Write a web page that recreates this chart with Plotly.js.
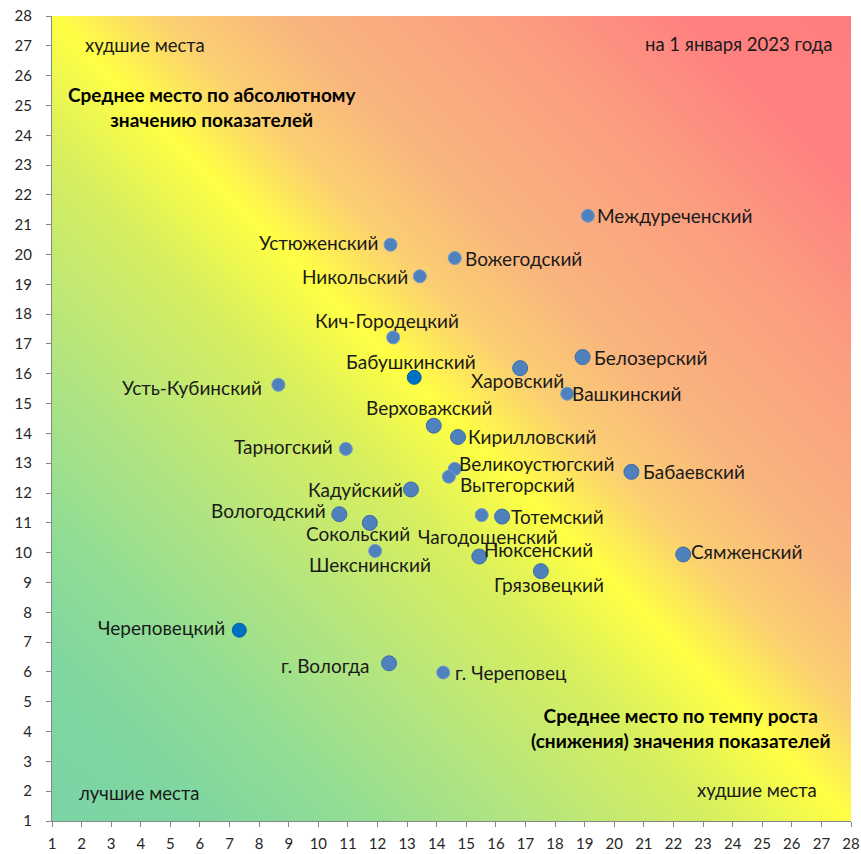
<!DOCTYPE html>
<html>
<head>
<meta charset="utf-8">
<script src="https://cdn.plot.ly/plotly-3.0.1.min.js"></script>
<style>html,body{margin:0;padding:0;background:#fff;}#chart{width:861px;height:854px;}</style>
</head>
<body>
<div id="chart"></div>
<script>
// ---- data ----
const districts = ["Междуреченский","Устюженский","Вожегодский","Никольский","Кич-Городецкий","Бабушкинский","Усть-Кубинский","Харовский","Белозерский","Вашкинский","Верховажский","Кирилловский","Тарногский","Великоустюгский","Вытегорский","Бабаевский","Кадуйский","Вологодский","Сокольский","Чагодощенский","Тотемский","Шекснинский","Нюксенский","Грязовецкий","Сямженский","Череповецкий","г. Вологда","г. Череповец"];
const growthPlace = [19.11,12.44,14.61,13.43,12.53,13.24,8.65,16.82,18.93,18.41,13.90,14.72,10.93,14.61,14.41,20.58,13.13,10.71,11.74,15.52,16.21,11.92,15.44,17.52,22.33,7.33,12.39,14.22];
const absPlace    = [21.30,20.33,19.88,19.27,17.22,15.88,15.63,16.19,16.56,15.33,14.26,13.88,13.48,12.81,12.55,12.71,12.12,11.29,11.00,11.26,11.21,10.06,9.87,9.38,9.94,7.40,6.29,5.98];
const tickVals = [1,2,3,4,5,6,7,8,9,10,11,12,13,14,15,16,17,18,19,20,21,22,23,24,25,26,27,28];

// ---- styles (marker kind and label placement) ----
// kind: s = small, b = big, d = dark blue
const kind = ["s","s","s","s","s","d","s","b","b","s","b","b","s","s","s","b","b","b","b","s","b","s","b","b","b","d","b","s"];
const lblAnchor = ["l","r","l","r","c","c","r","c","l","l","c","l","r","l","l","l","r","r","c","c","l","c","l","c","l","r","r","l"];
const lblDx = [8,-12,9,-11,-6,-3,-15,-3,10,4,-5,9,-12,3,10,11,-7,-12,-12,6,8,-5,4,8,7,-13,-18,11];
const lblDy = [0,2,0,0,17,16,-3,-12,0,0,18,0,2,5,-8,0,0,4,-11,-21,0,-14,7,-13,3,3,-2,0];

const FONT = 'Lato, "Liberation Sans", sans-serif';
const sizeOf = {s:13, b:15, d:14};
const colorOf = {s:'#4f81bd', b:'#4f81bd', d:'#0070c0'};
const lineOf = {s:'#7199cf', b:'#3e6da6', d:'#0063ab'};

const trace = {
  type:'scatter', mode:'markers',
  x: growthPlace, y: absPlace, text: districts,
  hoverinfo:'text',
  marker:{
    size: kind.map(k=>sizeOf[k]),
    color: kind.map(k=>colorOf[k]),
    opacity: 1,
    line:{width:1, color: kind.map(k=>lineOf[k])}
  }
};

const anchorMap = {l:'left', r:'right', c:'center'};
const labelAnn = districts.map((name,i)=>({
  x: growthPlace[i], y: absPlace[i], xref:'x', yref:'y',
  text: name, showarrow:false,
  xanchor: anchorMap[lblAnchor[i]], yanchor:'middle',
  xshift: lblDx[i], yshift: lblDy[i], borderpad:0,
  font:{family:FONT, size:19, color:'#1a1a1a'}
}));

const noteFont = {family:FONT, size:18.5, color:'#1a1a1a'};
const boldFont = {family:FONT, size:19, color:'#000000'};
const notes = [
  {x:4.14, y:27.04, text:'худшие места', font:noteFont, xanchor:'center'},
  {x:27.45, y:27.07, text:'на 1 января 2023 года', font:noteFont, xanchor:'right'},
  {x:6.4, y:24.94, text:'<b>Среднее место по абсолютному</b><br><b>значению показателей</b>', font:boldFont, xanchor:'center'},
  {x:22.27, y:4.12, text:'<b>Среднее место по темпу роста</b><br><b>(снижения) значения показателей</b>', font:boldFont, xanchor:'center'},
  {x:24.82, y:2.04, text:'худшие места', font:noteFont, xanchor:'center'},
  {x:3.94, y:1.94, text:'лучшие места', font:noteFont, xanchor:'center'}
].map(a=>Object.assign({xref:'x', yref:'y', showarrow:false, yanchor:'middle', align:'center'}, a));

const stops = [
  [0,'#7ad4a5'],[0.1,'#7fd6a0'],[0.2,'#95de92'],[0.3,'#b5e57e'],[0.42,'#d8ef5e'],
  [0.5,'#ffff44'],[0.57,'#fbcf72'],[0.65,'#f9b47e'],[0.78,'#fb9e80'],[0.9,'#ff8080'],[1,'#ff7d7d']
];
const svg = "<svg xmlns='http://www.w3.org/2000/svg' width='200' height='200' viewBox='0 0 200 200' preserveAspectRatio='none'>" +
  "<defs><linearGradient id='g' x1='0' y1='1' x2='1' y2='0'>" +
  stops.map(s=>"<stop offset='"+s[0]+"' stop-color='"+s[1]+"'/>").join('') +
  "</linearGradient></defs><rect width='200' height='200' fill='url(#g)'/></svg>";
const bgSrc = 'data:image/svg+xml;charset=utf-8,' + encodeURIComponent(svg);

const axisCommon = {
  range:[1,28], tickvals: tickVals, ticktext: tickVals.map(String),
  showgrid:false, zeroline:false, showline:true, linecolor:'#868686', linewidth:1,
  ticks:'outside', ticklen:5, tickcolor:'#868686', tickwidth:1,
  tickfont:{family:FONT, size:15, color:'#262626'}, fixedrange:true
};

const layout = {
  width:861, height:854,
  margin:{l:52, r:10, t:16, b:33},
  paper_bgcolor:'#ffffff', plot_bgcolor:'#ffffff',
  showlegend:false,
  xaxis: Object.assign({}, axisCommon, {ticklabelstandoff:4}),
  yaxis: Object.assign({}, axisCommon, {ticklabelstandoff:11}),
  images:[{source:bgSrc, xref:'x', yref:'y', x:1, y:28, sizex:27, sizey:27, sizing:'stretch', layer:'below', xanchor:'left', yanchor:'top'}],
  annotations: labelAnn.concat(notes)
};

Plotly.newPlot('chart', [trace], layout, {displayModeBar:false, staticPlot:true});
</script>
</body>
</html>
